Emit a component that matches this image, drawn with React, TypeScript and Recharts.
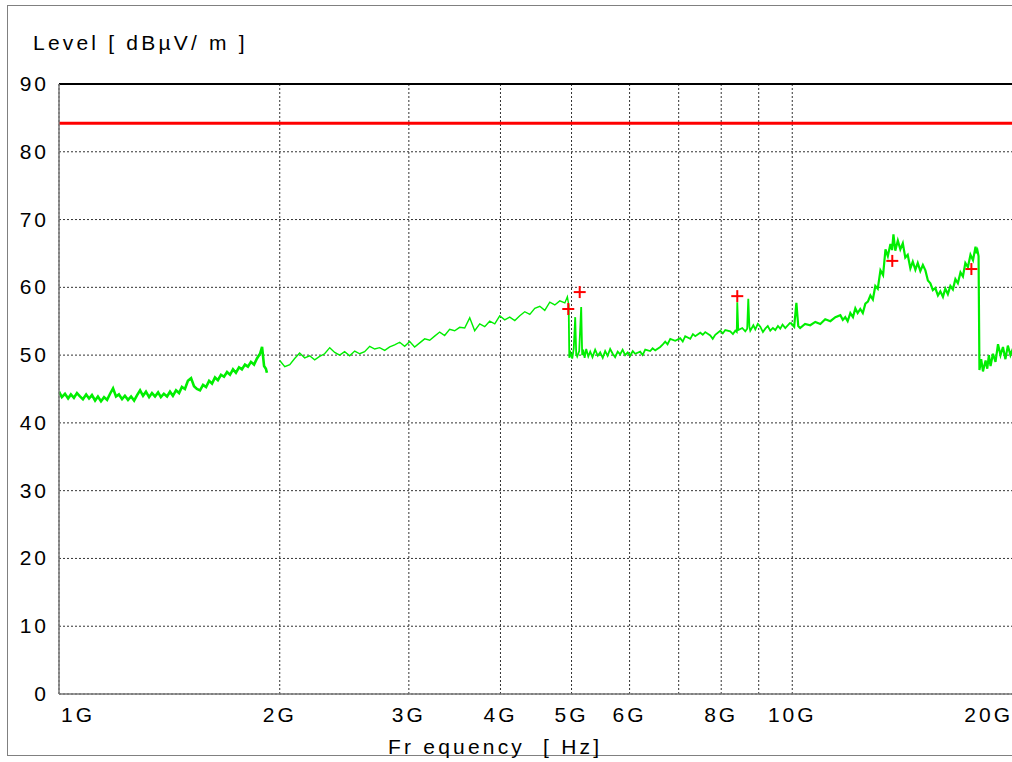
import React from "react";
import {
  ComposedChart, Line, Scatter, XAxis, YAxis, CartesianGrid, ReferenceLine,
} from "recharts";

// frequency in GHz, level in dBµV/m
const SWEEP_1G_2G: [number, number][] = [
  [1.000, 44.6], [1.009, 43.8], [1.019, 44.3], [1.029, 43.6], [1.038, 44.2], [1.048, 43.7],
  [1.058, 44.4], [1.068, 43.9], [1.078, 43.5], [1.089, 44.2], [1.099, 43.6], [1.109, 44.1],
  [1.120, 43.3], [1.130, 43.9], [1.141, 43.2], [1.152, 43.8], [1.163, 43.4], [1.174, 44.3],
  [1.185, 45.1], [1.196, 43.9], [1.207, 44.2], [1.219, 43.5], [1.230, 44.0], [1.242, 43.4],
  [1.254, 43.9], [1.266, 43.3], [1.278, 44.1], [1.290, 44.8], [1.302, 44.0], [1.314, 44.6],
  [1.327, 43.8], [1.339, 44.4], [1.352, 43.9], [1.365, 44.5], [1.377, 43.8], [1.390, 44.3],
  [1.404, 43.9], [1.417, 44.6], [1.430, 44.0], [1.444, 44.8], [1.458, 44.4], [1.471, 45.3],
  [1.485, 45.0], [1.499, 46.2], [1.514, 46.6], [1.528, 45.4], [1.542, 45.0], [1.557, 44.8],
  [1.572, 45.6], [1.587, 45.3], [1.602, 46.2], [1.617, 45.8], [1.632, 46.7], [1.647, 46.3],
  [1.663, 47.1], [1.679, 46.8], [1.695, 47.5], [1.711, 47.1], [1.727, 47.9], [1.743, 47.4],
  [1.760, 48.2], [1.776, 47.9], [1.793, 48.6], [1.810, 48.3], [1.827, 49.0], [1.845, 48.6],
  [1.862, 49.5], [1.880, 50.2], [1.892, 51.2], [1.904, 48.4], [1.915, 48.0], [1.921, 47.4],
];

const SWEEP_2G_5G: [number, number][] = [
  [2.000, 49.2], [2.032, 48.3], [2.064, 48.6], [2.096, 49.5], [2.129, 50.3], [2.163, 49.6],
  [2.197, 49.9], [2.232, 49.3], [2.267, 49.8], [2.303, 50.2], [2.340, 51.1], [2.377, 50.4],
  [2.414, 50.0], [2.452, 50.5], [2.491, 49.9], [2.531, 50.6], [2.571, 50.2], [2.611, 50.5],
  [2.653, 51.3], [2.695, 50.9], [2.737, 51.1], [2.781, 50.7], [2.825, 51.2], [2.869, 51.5],
  [2.915, 51.9], [2.961, 51.3], [3.008, 52.0], [3.055, 51.2], [3.104, 51.8], [3.153, 52.4],
  [3.203, 52.2], [3.253, 52.8], [3.305, 53.4], [3.357, 52.9], [3.410, 53.8], [3.464, 53.6],
  [3.519, 54.1], [3.575, 54.0], [3.632, 55.5], [3.689, 53.6], [3.748, 54.6], [3.807, 54.2],
  [3.867, 55.0], [3.929, 54.6], [3.991, 55.8], [4.054, 55.2], [4.118, 55.6], [4.184, 55.1],
  [4.250, 55.8], [4.317, 56.4], [4.386, 56.0], [4.455, 56.9], [4.526, 57.2], [4.597, 56.6],
  [4.670, 57.8], [4.744, 57.4], [4.819, 58.0], [4.896, 57.7], [4.935, 58.6], [4.955, 57.5],
];

const SWEEP_5G_10G: [number, number][] = [
  [4.955, 57.5], [4.965, 49.6], [4.985, 50.3], [5.011, 49.5], [5.035, 51.0], [5.058, 55.6], [5.074, 50.2],
  [5.090, 49.8], [5.122, 50.6], [5.154, 57.1], [5.170, 50.0], [5.187, 50.8], [5.210, 49.6],
  [5.236, 50.9], [5.270, 49.8], [5.302, 50.5], [5.340, 49.7], [5.385, 50.8], [5.430, 49.9],
  [5.471, 50.4], [5.515, 49.6], [5.557, 50.6], [5.600, 49.9], [5.645, 50.9], [5.690, 50.2],
  [5.734, 49.7], [5.780, 50.5], [5.825, 50.1], [5.870, 50.8], [5.917, 50.0], [5.965, 50.4],
  [6.011, 49.9], [6.060, 50.6], [6.106, 50.2], [6.203, 50.5], [6.250, 50.0], [6.302, 50.8],
  [6.401, 50.6], [6.450, 51.0], [6.503, 50.7], [6.606, 51.2], [6.660, 51.6], [6.710, 52.0],
  [6.760, 51.6], [6.817, 52.4], [6.925, 52.1], [7.034, 52.5], [7.090, 52.0], [7.145, 52.8],
  [7.259, 52.4], [7.320, 53.1], [7.374, 52.8], [7.491, 53.3], [7.550, 53.0], [7.609, 53.4],
  [7.730, 52.9], [7.790, 52.4], [7.852, 53.0], [7.977, 53.6], [8.040, 53.2], [8.103, 53.7],
  [8.231, 53.5], [8.300, 53.1], [8.362, 53.6], [8.400, 53.4], [8.414, 57.8], [8.440, 53.7],
  [8.547, 54.0], [8.628, 53.5], [8.680, 53.9], [8.710, 58.3], [8.740, 54.2], [8.765, 53.6],
  [8.850, 54.4], [8.904, 53.8], [8.975, 54.6], [9.045, 54.2], [9.120, 53.4], [9.188, 53.9],
  [9.260, 54.3], [9.333, 53.6], [9.410, 54.0], [9.481, 53.7], [9.560, 54.3], [9.630, 53.9],
  [9.700, 54.5], [9.783, 54.0], [9.860, 54.4], [9.938, 54.8],
];

const SWEEP_10G_20G: [number, number][] = [
  [9.938, 54.8],
  [10.06, 54.2], [10.13, 57.7], [10.19, 54.3], [10.25, 54.0], [10.41, 54.6], [10.58, 54.4],
  [10.75, 54.9], [10.92, 54.6], [11.09, 55.3], [11.27, 55.0], [11.45, 55.6], [11.63, 55.9],
  [11.72, 55.2], [11.81, 55.6], [11.90, 55.0], [12.00, 56.2], [12.10, 55.6], [12.19, 56.9],
  [12.28, 56.2], [12.38, 56.8], [12.48, 56.2], [12.58, 57.6], [12.68, 57.9], [12.78, 58.8],
  [12.88, 58.2], [12.98, 60.2], [13.08, 59.8], [13.19, 62.5], [13.30, 61.8], [13.40, 65.6],
  [13.50, 64.6], [13.61, 66.4], [13.68, 65.5], [13.74, 67.8], [13.82, 65.4], [13.93, 66.9],
  [14.04, 65.6], [14.15, 66.5], [14.26, 64.4], [14.37, 64.8], [14.49, 62.8], [14.60, 63.8],
  [14.72, 62.6], [14.83, 63.6], [14.95, 62.4], [15.07, 63.3], [15.19, 62.5], [15.31, 61.0],
  [15.43, 60.6], [15.55, 59.6], [15.67, 59.9], [15.80, 58.8], [15.92, 59.4], [16.05, 58.6],
  [16.17, 59.8], [16.30, 59.0], [16.43, 60.2], [16.56, 59.7], [16.69, 61.2], [16.82, 60.6],
  [16.96, 62.2], [17.09, 61.6], [17.22, 63.6], [17.36, 63.0], [17.50, 64.8], [17.64, 64.0],
  [17.78, 66.0], [17.84, 65.0], [17.89, 65.4], [17.95, 64.6], [18.00, 47.8], [18.10, 49.4],
  [18.20, 47.6], [18.35, 49.2], [18.45, 48.0], [18.54, 50.0], [18.64, 48.4], [18.78, 50.2],
  [18.93, 49.0], [19.08, 51.6], [19.23, 50.0], [19.38, 51.2], [19.53, 49.4], [19.68, 51.4],
  [19.84, 50.0], [20.00, 51.0],
];

const PEAKS: [number, number][] = [
  [4.949, 56.8], [5.130, 59.3], [8.414, 58.7], [13.69, 63.9], [17.55, 62.7],
];

const LIMIT = 84.2;
const X_TICKS = [1, 2, 3, 4, 5, 6, 7, 8, 9, 10, 20];
const X_LABELS: Record<number, string> = { 1: "1G", 2: "2G", 3: "3G", 4: "4G", 5: "5G", 6: "6G", 8: "8G", 10: "10G", 20: "20G" };
const Y_TICKS = [0, 10, 20, 30, 40, 50, 60, 70, 80, 90];

const FONT = "'Liberation Sans', Arial, sans-serif";
const GREEN = "#00ee00";

const toRows = (pts: [number, number][]) => pts.map(([f, v]) => ({ f, v }));

function XTick(props: any) {
  const { x, y, payload } = props;
  const label = X_LABELS[payload.value];
  if (!label) return null;
  const anchor = payload.value === 1 ? "start" : payload.value === 20 ? "end" : "middle";
  return (
    <text x={payload.value === 1 ? x + 2 : x} y={y} dy={20} textAnchor={anchor}
      fontFamily={FONT} fontSize={21} letterSpacing={3} fill="#000">
      {label}
    </text>
  );
}

function YTick(props: any) {
  const { y, payload } = props;
  return (
    <text x={49} y={y} dy={7} textAnchor="end" fontFamily={FONT} fontSize={21}
      letterSpacing={3} fill="#000">
      {payload.value}
    </text>
  );
}

function Plus(props: any) {
  const { cx, cy } = props;
  return (
    <g stroke="#ff0000" strokeWidth={2}>
      <line x1={cx - 6} y1={cy} x2={cx + 6} y2={cy} />
      <line x1={cx} y1={cy - 6} x2={cx} y2={cy + 6} />
    </g>
  );
}

const titleStyle: React.CSSProperties = {
  position: "absolute", fontFamily: FONT, fontSize: 21, letterSpacing: 3.2,
  lineHeight: "24px", whiteSpace: "pre", color: "#000",
};

export default function App() {
  return (
    <div style={{ position: "fixed", left: 0, top: 0, width: 1012, height: 762, overflow: "hidden", background: "#fff" }}>
      <div style={{
        position: "absolute", left: 7, top: 5, width: 1020, height: 751,
        border: "1.5px solid #808080", boxSizing: "border-box",
      }} />
      <div style={{ ...titleStyle, left: 33, top: 31 }}>Level [ dBµV/ m ]</div>
      <div style={{ ...titleStyle, left: 388, top: 735 }}>Fr equency  [ Hz]</div>
      <div style={{ position: "absolute", left: 0, top: 0 }}>
        <ComposedChart width={1020} height={762} margin={{ top: 84, right: 7, bottom: 28, left: 9 }}>
          <CartesianGrid stroke="#333" strokeDasharray="2 2" strokeWidth={1} />
          <XAxis
            dataKey="f" type="number" scale="log" domain={[1, 20]} allowDataOverflow
            ticks={X_TICKS} tick={<XTick />} tickLine={false} height={40}
            axisLine={{ stroke: "#777", strokeWidth: 1.5 }} interval={0}
          />
          <YAxis
            type="number" domain={[0, 90]} ticks={Y_TICKS} tick={<YTick />}
            tickLine={false} width={50} axisLine={{ stroke: "#777", strokeWidth: 1.5 }}
            interval={0}
          />
          <ReferenceLine y={90} stroke="#000" strokeWidth={2} />
          <ReferenceLine y={LIMIT} stroke="#ff0000" strokeWidth={3} />
          <Line data={toRows(SWEEP_1G_2G)} dataKey="v" type="linear" stroke={GREEN}
            strokeWidth={2.6} dot={false} isAnimationActive={false} />
          <Line data={toRows(SWEEP_2G_5G)} dataKey="v" type="linear" stroke={GREEN}
            strokeWidth={1.4} dot={false} isAnimationActive={false} />
          <Line data={toRows(SWEEP_5G_10G)} dataKey="v" type="linear" stroke={GREEN}
            strokeWidth={1.8} dot={false} isAnimationActive={false} />
          <Line data={toRows(SWEEP_10G_20G)} dataKey="v" type="linear" stroke={GREEN}
            strokeWidth={2.2} dot={false} isAnimationActive={false} />
          <Scatter data={toRows(PEAKS)} dataKey="v" shape={<Plus />} isAnimationActive={false} />
        </ComposedChart>
      </div>
    </div>
  );
}
